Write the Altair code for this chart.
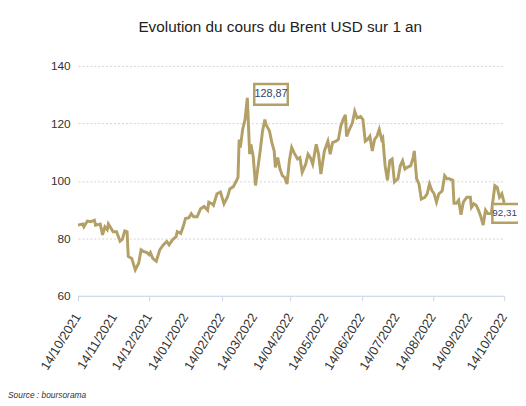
import altair as alt
import pandas as pd

# Days since 14/10/2021 and Brent price (USD)
day_offsets = [0, 4, 5, 8, 11, 14, 15, 19, 21, 23, 25, 26, 29, 30, 33, 36, 38, 40, 42, 43,
               46, 49, 52, 54, 56, 59, 61, 62, 64, 67, 70, 73, 76, 78, 81, 84, 85, 88, 90, 92,
               95, 97, 99, 102, 105, 108, 111, 112, 115, 116, 119, 122, 125, 128, 130, 133, 135, 137, 138, 139,
               141, 143, 145, 147, 148, 150, 152, 156, 158, 160, 161, 164, 166, 168, 169, 171, 173, 175, 177, 179,
               181, 183, 185, 188, 190, 192, 195, 197, 199, 201, 204, 206, 208, 211, 214, 216, 218, 221, 223, 225,
               227, 229, 230, 233, 235, 237, 239, 242, 244, 246, 248, 250, 252, 254, 256, 258, 260, 261, 263, 265,
               267, 269, 271, 274, 276, 278, 280, 282, 285, 287, 288, 290, 292, 294, 297, 299, 301, 303, 305, 307,
               309, 311, 312, 314, 316, 318, 321, 322, 324, 326, 328, 330, 333, 336, 337, 339, 341, 343, 345, 347,
               349, 351, 354, 355, 357, 359, 361, 363, 365]
prices = [84.6, 85, 84, 86, 85.8, 86.3, 84.6, 85, 81.2, 84, 83, 85, 83, 82.3, 82.3, 79, 79.7, 82.6, 82.3, 73.7,
          73, 69, 71.4, 76, 75.4, 75, 74.3, 75, 73, 72, 76, 77.7, 78.9, 77.7, 79.5, 80.6, 82.3, 81.7, 84, 86.9,
          87.2, 88.6, 87.5, 87.5, 90.3, 91.1, 89.8, 92.6, 92, 91.5, 95.5, 96.1, 92, 94.4, 97.2, 98, 99.5, 101.2, 114.4, 111.6,
          117.9, 121.3, 128.87, 109.3, 112.7, 108.7, 98.4, 110.4, 117.3, 121.3, 119.6, 117.3, 113.3, 110.4, 104.7, 108.1, 104.1, 101.8, 101.2, 98.9,
          107, 111.6, 109.8, 107.6, 108.1, 103, 105.8, 109.3, 108.1, 105.8, 112.7, 109.3, 102.4, 110.4, 113.8, 109.3, 113.3, 113.8, 114.4, 119,
          121.3, 123, 115.5, 118.4, 120.2, 124.2, 121.9, 122.4, 121.3, 113.8, 114.4, 115.5, 110.4, 114.4, 115.5, 117.9, 114.4, 115, 105.3, 100.2,
          107, 107.6, 99.6, 100.7, 105.3, 107, 104.1, 104.7, 105.3, 108.1, 110.4, 100.7, 98.9, 93.7, 94.3, 95.5, 98.9, 96.7, 95.5, 92.6,
          95.5, 96.1, 96.7, 101.8, 100.7, 100.7, 100.2, 92.2, 92.2, 93.3, 88.2, 92.6, 94.3, 94.3, 90.8, 92, 91.5, 89.8, 87.5, 84.6,
          89.8, 88.6, 88.6, 92, 98.3, 97.7, 94.3, 95.5, 92.31]

start = pd.Timestamp("2021-10-14")
dates = [(start + pd.Timedelta(days=d)).strftime("%Y-%m-%dT00:00:00") for d in day_offsets]
df = pd.DataFrame({"date": dates, "price": prices})

peak_label = pd.DataFrame({"date": [dates[prices.index(128.87)]], "price": [128.87], "label": ["128,87"]})
last_label = pd.DataFrame({"date": [dates[-1]], "price": [92.31], "label": ["92,31"]})

tick_dates = ["2021-10-14", "2021-11-14", "2021-12-14", "2022-01-14", "2022-02-14", "2022-03-14",
              "2022-04-14", "2022-05-14", "2022-06-14", "2022-07-14", "2022-08-14", "2022-09-14",
              "2022-10-14"]
tick_labels = ["14/10/2021", "14/11/2021", "14/12/2021", "14/01/2022", "14/02/2022", "14/03/2022",
               "14/04/2022", "14/05/2022", "14/06/2022", "14/07/2022", "14/08/2022", "14/09/2022",
               "14/10/2022"]
ticks_df = pd.DataFrame({"date": [d + "T00:00:00" for d in tick_dates], "label": tick_labels})
tick_values = [alt.DateTime(year=int(d[:4]), month=int(d[5:7]), date=int(d[8:])) for d in tick_dates]

LINE = "#b3a067"
AXIS_BLUE = "#c9d5ea"
FONT = "Liberation Sans, Arial, sans-serif"

x_scale = alt.Scale(domain=[tick_values[0], tick_values[-1]])
x_enc = alt.X("date:T", scale=x_scale,
              axis=alt.Axis(values=tick_values, title=None, labels=False, grid=False,
                            domainColor=AXIS_BLUE, tickColor=AXIS_BLUE, tickSize=5))
y_enc = alt.Y("price:Q",
              scale=alt.Scale(domain=[60, 140], nice=False, zero=False),
              axis=alt.Axis(values=list(range(60, 141, 10)), title=None, domain=False, ticks=False,
                            labelFont=FONT, labelFontSize=12, labelColor="#333333", labelPadding=8,
                            grid=True, gridColor="#d2d2d2", gridDash=[2, 2]))

line = alt.Chart(df).mark_line(color=LINE, strokeWidth=3).encode(x=x_enc, y=y_enc)

x_labels = alt.Chart(ticks_df).mark_text(
    font=FONT, fontSize=13, color="#333333", angle=302, align="right", baseline="middle"
).encode(x=alt.X("date:T", scale=x_scale), y=alt.value(252), text="label:N")

peak_box = alt.Chart(peak_label).mark_rect(
    fill="white", stroke=LINE, strokeWidth=2.5,
    xOffset=7, x2Offset=41, yOffset=-14, y2Offset=7
).encode(x="date:T", x2="date:T", y="price:Q", y2="price:Q")
peak_text = alt.Chart(peak_label).mark_text(
    font=FONT, fontSize=11, color="#34426a", align="center", baseline="middle", dx=24, dy=-3.5
).encode(x="date:T", y="price:Q", text="label:N")

last_box = alt.Chart(last_label).mark_rect(
    fill="white", stroke=LINE, strokeWidth=2.5,
    xOffset=-12, x2Offset=24, yOffset=1, y2Offset=20
).encode(x="date:T", x2="date:T", y="price:Q", y2="price:Q")
last_text = alt.Chart(last_label).mark_text(
    font=FONT, fontSize=10, color="#34426a", align="left", baseline="middle", dx=-12, dy=10.5
).encode(x="date:T", y="price:Q", text="label:N")

source = alt.Chart(pd.DataFrame({"t": ["Source : boursorama"]})).mark_text(
    font=FONT, fontSize=8.5, fontStyle="italic", color="#333333",
    align="left", baseline="middle"
).encode(x=alt.value(-71), y=alt.value(334), text="t:N")

chart = alt.layer(line, x_labels, peak_box, peak_text, last_box, last_text, source).properties(
    width=432, height=233,
    title=alt.TitleParams("Evolution du cours du Brent USD sur 1 an", font=FONT, fontSize=15.5,
                          fontWeight="normal", color="#222222", offset=25, dx=-11, anchor="middle"),
    autosize=alt.AutoSizeParams(type="none"),
    padding={"left": 71, "top": 56, "right": 14, "bottom": 108},
).configure_view(stroke=None)

chart.save("out.html", embed_options={"renderer": "svg", "actions": False})
